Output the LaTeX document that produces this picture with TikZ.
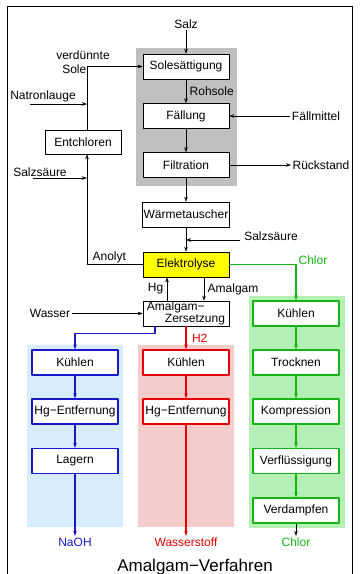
\documentclass[tikz,border=0pt]{standalone}
\usepackage{fontspec}
\setmainfont{Liberation Sans}
\usetikzlibrary{arrows.meta}
\definecolor{grauhg}{RGB}{191,191,191}
\definecolor{gelb}{RGB}{255,255,0}
\definecolor{blau}{RGB}{25,25,200}
\definecolor{rot}{RGB}{228,0,0}
\definecolor{gruen}{RGB}{20,180,20}
\definecolor{blauhg}{RGB}{217,236,252}
\definecolor{rothg}{RGB}{245,204,204}
\definecolor{gruenhg}{RGB}{180,240,180}
\tikzset{
  box/.style={draw, fill=white, line width=.6pt, minimum width=86pt, minimum height=25pt, inner sep=1pt},
  cbox/.style={box, draw=#1, line width=1.1pt},
  lab/.style={inner sep=1.5pt}
}
\begin{document}
\begin{tikzpicture}[x=1pt, y=-1pt, >={Stealth[length=5pt,width=3.5pt]}, font=\fontsize{12}{14}\selectfont, line join=round]
        \useasboundingbox (0,0) rectangle (361,574);
        %Rahmen
        \draw[line width=.8pt] (7,600)--(7,6)--(352,6)--(352,600);
        %Hintergruende
        \fill[grauhg] (136,48) rectangle (237,186);
        \fill[blauhg] (27,345) rectangle (123,527);
        \fill[rothg] (138,345) rectangle (234,527);
        \fill[gruenhg] (249,296) rectangle (345,528);
        %Sole-Kreislauf
        \node[box] (sole) at (186,66.5) {Solesättigung};
        \node[box] (faell) at (186,116) {Fällung};
        \node[box] (filt) at (186,165) {Filtration};
        \node[box] (waerme) at (186,214.5) {Wärmetauscher};
        \node[box, fill=gelb] (elek) at (186,264.5) {Elektrolyse};
        \node[box, font=\fontsize{12}{11.5}\selectfont, align=left, inner sep=0pt] (zers) at (186,313.5) {Amalgam−\\\hspace*{18pt}Zersetzung};
        \node[box, minimum width=76pt, minimum height=24pt] (entchl) at (83,142) {Entchloren};
        \node[lab] (salz) at (186,24) {Salz};
        \node[lab] (faellm) at (316,116) {Fällmittel};
        \node[lab] (rueck) at (321,165) {Rückstand};
        \node[lab] (wasser) at (50,313.5) {Wasser};
        \node[lab, align=left] (vsole) at (83,62) {verdünnte\\\hspace*{6pt}Sole};
        \node[lab] (natron) at (43,96) {Natronlauge};
        \node[lab] (hclli) at (40,172) {Salzsäure};
        \node[lab] (hclre) at (271,236) {Salzsäure};
        \coordinate (natronA) at (30,104);
        \coordinate (natronB) at (87,104);
        \coordinate (hclliA) at (33,178);
        \coordinate (hclliB) at (87,178);
        \coordinate (hclreA) at (240,240);
        \coordinate (hclreB) at (186,240);
        \draw[->] (salz)--(sole);
        \draw[->] (sole)--(faell) node[lab, midway, right=2pt]{Rohsole};
        \draw[->] (faell)--(filt);
        \draw[->] (filt)--(waerme);
        \draw[->] (waerme)--(elek);
        \draw[->] (faellm)--(faell);
        \draw[->] (filt)--(rueck);
        \draw[->] (hclreA)--(hclreB);
        \draw[->] (natronA)--(natronB);
        \draw[->] (hclliA)--(hclliB);
        \draw[->] ([xshift=4pt]entchl.north) |- (sole.west);
        \draw[->] (elek.west) -| ([xshift=4pt]entchl.south) node[lab, pos=.3, above]{Anolyt};
        \draw[->] (wasser)--(zers);
        \draw[->] ([xshift=-19pt]zers.north)--([xshift=-19pt]elek.south) node[lab, midway, left=2pt]{Hg};
        \draw[->] ([xshift=18pt]elek.south)--([xshift=18pt]zers.north) node[lab, midway, right=2pt]{Amalgam};
        %NaOH
        \node[cbox=blau] (bkuehl) at (75,362.5) {Kühlen};
        \node[cbox=blau] (bhg) at (75,411.5) {Hg−Entfernung};
        \node[cbox=blau] (blager) at (75,461) {Lagern};
        \node[lab, text=blau] (naoh) at (75,542) {NaOH};
        \draw[->, blau, line width=1.1pt] ([xshift=-31pt]zers.south)--++(0,7) -| (bkuehl.north);
        \draw[->, blau, line width=1.1pt] (bkuehl)--(bhg);
        \draw[->, blau, line width=1.1pt] (bhg)--(blager);
        \draw[->, blau, line width=1.1pt] (blager)--(naoh);
        %Wasserstoff
        \node[cbox=rot] (rkuehl) at (186,362.5) {Kühlen};
        \node[cbox=rot] (rhg) at (186,411.5) {Hg−Entfernung};
        \node[lab, text=rot] (wstoff) at (186,542) {Wasserstoff};
        \draw[->, rot, line width=1.1pt] (zers)--(rkuehl) node[lab, midway, right=4pt, text=rot]{H2};
        \draw[->, rot, line width=1.1pt] (rkuehl)--(rhg);
        \draw[->, rot, line width=1.1pt] (rhg)--(wstoff);
        %Chlor
        \node[cbox=gruen] (gkuehl) at (296,313.5) {Kühlen};
        \node[cbox=gruen] (gtrock) at (296,362.5) {Trocknen};
        \node[cbox=gruen] (gkomp) at (296,411.5) {Kompression};
        \node[cbox=gruen] (gverfl) at (296,461) {Verflüssigung};
        \node[cbox=gruen] (gverd) at (296,510.5) {Verdampfen};
        \node[lab, text=gruen] (chlorend) at (296,542) {Chlor};
        \draw[->, gruen, line width=1.1pt] (elek.east) -| (gkuehl.north);
        \node[lab, text=gruen] (chlor) at (313,260) {Chlor};
        \draw[->, gruen, line width=1.1pt] (gkuehl)--(gtrock);
        \draw[->, gruen, line width=1.1pt] (gtrock)--(gkomp);
        \draw[->, gruen, line width=1.1pt] (gkomp)--(gverfl);
        \draw[->, gruen, line width=1.1pt] (gverfl)--(gverd);
        \draw[->] (gverd)--(chlorend);
        \node[font=\fontsize{17}{19}\selectfont] (titel) at (195,567) {Amalgam−Verfahren};
\end{tikzpicture}
\end{document}
